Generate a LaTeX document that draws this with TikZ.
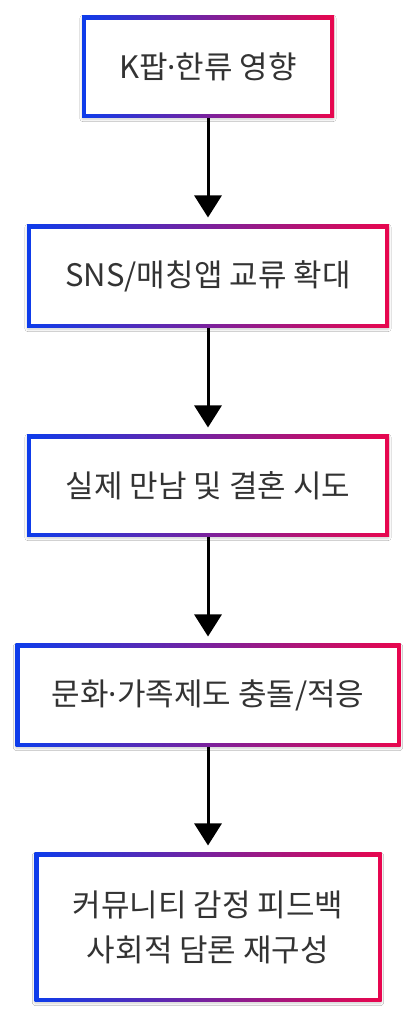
\documentclass[tikz,border=0pt]{standalone}
\usepackage{fontspec}
\setmainfont{Noto Sans CJK KR}
\newfontfamily\dotfont{Noto Sans}
\newcommand{\mdot}{{\dotfont ·}}
\usetikzlibrary{arrows.meta,shadows.blur}
\definecolor{gblue}{HTML}{0D3CEB}
\definecolor{gmid}{HTML}{7A2A9E}
\definecolor{gred}{HTML}{E8064E}
\definecolor{txt}{HTML}{333333}
\tikzset{
  flowbox/.style={
    shade, shading=axis, left color=gblue, middle color=gmid, right color=gred, shading angle=90,
    blur shadow={shadow blur steps=6, shadow xshift=0pt, shadow yshift=-1.5pt, shadow opacity=18, shadow blur extra rounding=1pt},
    inner sep=0pt, outer sep=0pt, align=center, text=txt,
    font=\fontsize{31}{45}\selectfont,
    path picture={\fill[white] ([shift={(4pt,4pt)}]path picture bounding box.south west) rectangle ([shift={(-4pt,-4pt)}]path picture bounding box.north east);}
  },
  flowarrow/.style={line width=3pt, -{Triangle[width=27pt,length=22pt]}, shorten >=7.5pt}
}
\begin{document}
\begin{tikzpicture}[x=1pt,y=1pt]
\useasboundingbox[fill=white] (0,0) rectangle (418,1024);
\node[flowbox, minimum width=252pt, minimum height=102pt] (a) at (208,957) {K팝\mdot 한류 영향};
\node[flowbox, minimum width=362pt, minimum height=103pt] (b) at (208,747.5) {SNS/매칭앱 교류 확대};
\node[flowbox, minimum width=362pt, minimum height=102pt] (c) at (208,538) {실제 만남 및 결혼 시도};
\node[flowbox, minimum width=385pt, minimum height=103pt] (d) at (208,328.5) {문화\mdot 가족제도 충돌/적응};
\node[flowbox, minimum width=347pt, minimum height=149pt] (e) at (208,96.5) {커뮤니티 감정 피드백\\사회적 담론 재구성};
\draw[flowarrow] (a) -- (b);
\draw[flowarrow] (b) -- (c);
\draw[flowarrow] (c) -- (d);
\draw[flowarrow] (d) -- (e);
\end{tikzpicture}
\end{document}
